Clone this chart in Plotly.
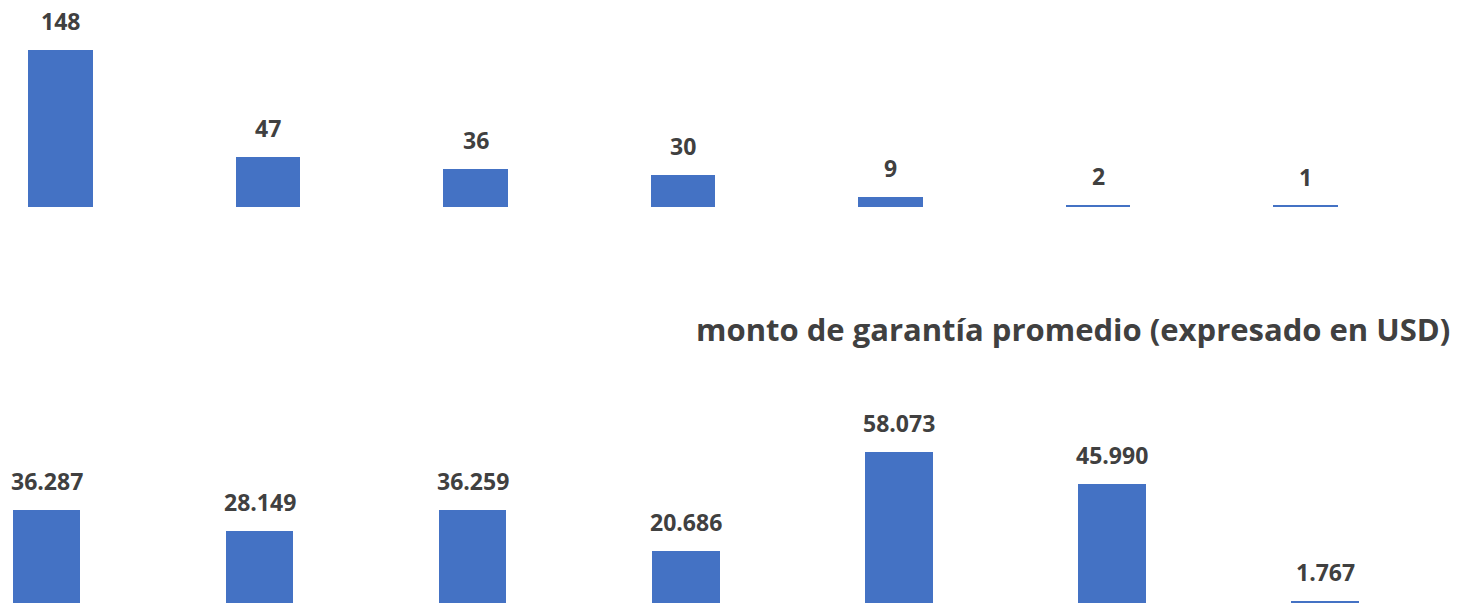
import plotly.graph_objects as go
from plotly.subplots import make_subplots

categories = ["Cat 1", "Cat 2", "Cat 3", "Cat 4", "Cat 5", "Cat 6", "Cat 7"]
cantidad = [148, 47, 36, 30, 9, 2, 1]
monto_promedio = [36287, 28149, 36259, 20686, 58073, 45990, 1767]
titulo_inferior = "monto de garantía promedio (expresado en USD)"

BAR = "#4472C4"
TXT = "#404040"
FONT = "'Open Sans', Lato, sans-serif"

W, H = 1458, 603

fig = make_subplots(rows=2, cols=1)

fig.add_trace(go.Bar(x=categories, y=cantidad, width=0.311,
                     marker=dict(color=BAR, line=dict(width=0)), showlegend=False),
              row=1, col=1)
fig.add_trace(go.Bar(x=categories, y=monto_promedio, width=0.316,
                     marker=dict(color=BAR, line=dict(width=0)), showlegend=False),
              row=2, col=1)

def fmt(v):
    return f"{v:,}".replace(",", ".")

LABEL_SHIFT = 11
annotations = []
for c, v in zip(categories, cantidad):
    annotations.append(dict(x=c, y=v, xref="x", yref="y", text=f"<b>{fmt(v)}</b>",
                            showarrow=False, yanchor="bottom", yshift=LABEL_SHIFT,
                            font=dict(family=FONT, size=23, color=TXT)))
for c, v in zip(categories, monto_promedio):
    annotations.append(dict(x=c, y=v, xref="x2", yref="y2", text=f"<b>{fmt(v)}</b>",
                            showarrow=False, yanchor="bottom", yshift=LABEL_SHIFT,
                            font=dict(family=FONT, size=23, color=TXT)))
annotations.append(dict(x=1452 / W, y=(H - 329) / H, xref="paper", yref="paper",
                        text=f"<b>{titulo_inferior}</b>", showarrow=False,
                        xanchor="right", yanchor="middle",
                        font=dict(family=FONT, size=31, color=TXT)))

# top panel: category centres at 60.5 + 207.5*i px, baseline at 207 px, 148 -> 50 px
top_ppu = (207 - 50) / 148.0
fig.update_xaxes(row=1, col=1, range=[-60.5 / 207.5, (W - 60.5) / 207.5],
                 domain=[0, 1], showticklabels=False, showgrid=False,
                 zeroline=False, showline=False)
fig.update_yaxes(row=1, col=1, range=[0, 207 / top_ppu],
                 domain=[(H - 207) / H, 1], showticklabels=False, showgrid=False,
                 zeroline=False, showline=False)

# bottom panel: centres at 46.7 + 213.05*i px, baseline at ~605.7 px (below the frame)
bot_ppu = 2.646 / 1000.0
base_px = 605.7
dom_top_px = 300.0
fig.update_xaxes(row=2, col=1, range=[-46.7 / 213.05, (W - 46.7) / 213.05],
                 domain=[0, 1], showticklabels=False, showgrid=False,
                 zeroline=False, showline=False)
fig.update_yaxes(row=2, col=1,
                 range=[(base_px - H) / bot_ppu, (base_px - dom_top_px) / bot_ppu],
                 domain=[0, (H - dom_top_px) / H], showticklabels=False, showgrid=False,
                 zeroline=False, showline=False)

fig.update_layout(width=W, height=H, margin=dict(l=0, r=0, t=0, b=0),
                  paper_bgcolor="white", plot_bgcolor="white",
                  bargap=0, annotations=annotations, showlegend=False,
                  font=dict(family=FONT, color=TXT))

fig.write_html("out.html", config={"displayModeBar": False},
               post_script="document.body.style.margin='0px';document.body.style.overflow='hidden';")
